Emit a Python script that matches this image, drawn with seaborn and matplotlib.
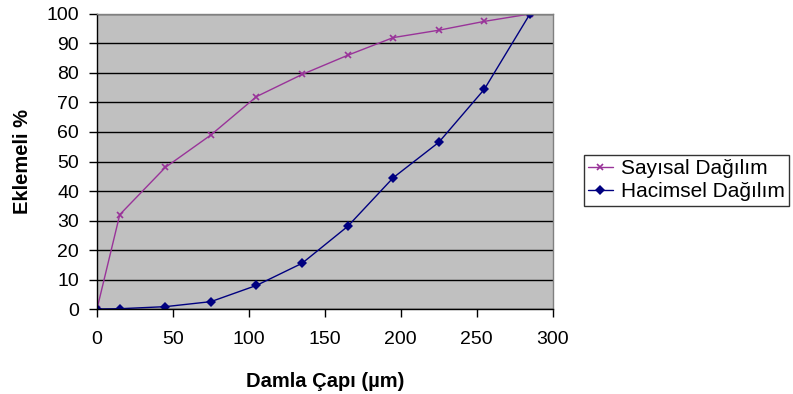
import matplotlib
matplotlib.use("Agg")
import matplotlib.pyplot as plt
import seaborn as sns
import pandas as pd

diameter = [0, 15, 45, 75, 105, 135, 165, 195, 225, 255, 285]
sayisal = [0, 32, 48, 59, 72, 79.5, 86, 92, 94.5, 97.5, 100]
hacimsel = [0, 0.1, 0.8, 2.5, 8, 15.5, 28, 44.5, 56.5, 74.5, 100]
series_names = ["Sayısal Dağılım", "Hacimsel Dağılım"]
x_ticks = [0, 50, 100, 150, 200, 250, 300]
y_ticks = [0, 10, 20, 30, 40, 50, 60, 70, 80, 90, 100]

sns.set_style("white")
plt.rcParams["font.family"] = ["Liberation Sans", "DejaVu Sans"]
plt.rcParams["text.color"] = "black"
plt.rcParams["axes.labelcolor"] = "black"
plt.rcParams["xtick.color"] = "black"
plt.rcParams["ytick.color"] = "black"

fig = plt.figure(figsize=(7.93, 3.94), dpi=100)
ax = fig.add_axes([0.1223, 0.2157, 0.5747, 0.7488])
ax.set_facecolor("#C0C0C0")

c1, c2 = "#993399", "#000080"
sns.lineplot(x=diameter, y=sayisal, color=c1, marker="x",
             markersize=5, markeredgewidth=1.2, markeredgecolor=c1,
             linewidth=1, ax=ax, label=series_names[0])
sns.lineplot(x=diameter, y=hacimsel, color=c2, marker="D",
             markersize=5, markeredgewidth=0, markerfacecolor=c2,
             linewidth=1, ax=ax, label=series_names[1])

ax.set_xlim(0, 300)
ax.set_ylim(0, 100)
ax.set_xticks(x_ticks)
ax.set_yticks(y_ticks)
ax.yaxis.grid(True, color="black", linewidth=1)
ax.xaxis.grid(False)
ax.set_axisbelow(True)
ax.tick_params(axis="both", labelsize=14, length=6, width=1, direction="out",
               bottom=True, left=True, color="black")
ax.tick_params(axis="y", pad=7)
ax.tick_params(axis="x", pad=10)
ax.set_xlabel("Damla Çapı (µm)", fontsize=14.5, fontweight="bold", labelpad=17)
ax.set_ylabel("Eklemeli %", fontsize=14.5, fontweight="bold", labelpad=10)

for side in ["top", "right"]:
    ax.spines[side].set_color("#808080")
    ax.spines[side].set_linewidth(1)
for side in ["left", "bottom"]:
    ax.spines[side].set_color("black")
    ax.spines[side].set_linewidth(1)

leg = ax.legend(loc="upper left", bbox_to_anchor=(1.068, 0.522), fontsize=15,
                frameon=True, fancybox=False, edgecolor="black",
                borderpad=0.2, handlelength=1.2, labelspacing=0.2,
                handletextpad=0.4, borderaxespad=0)
leg.get_frame().set_linewidth(1)

fig.savefig("out.png", dpi=100, facecolor="white")
